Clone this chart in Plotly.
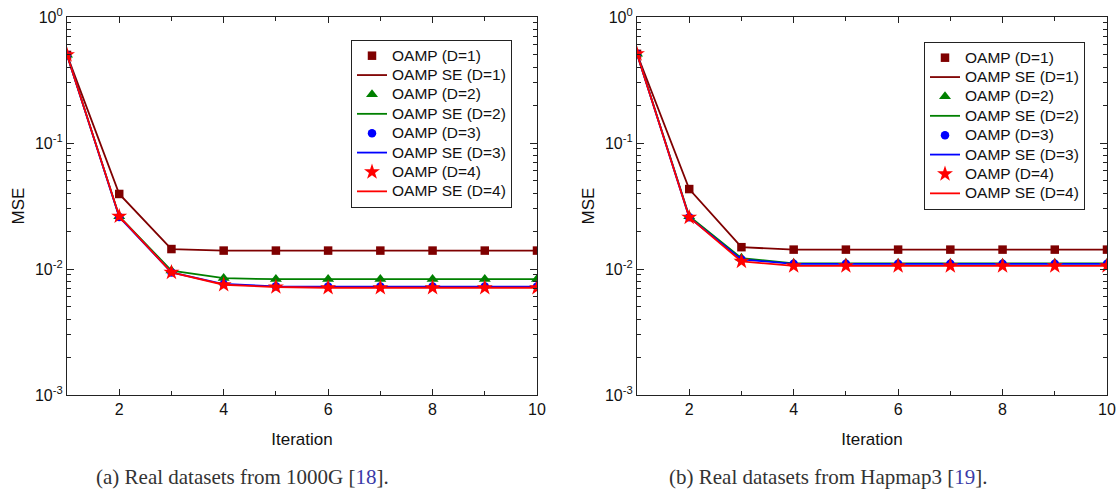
import plotly.graph_objects as go

iterations = [1, 2, 3, 4, 5, 6, 7, 8, 9, 10]

# (a) 1000G
a_d1 = [0.50, 0.0394, 0.0144, 0.0140, 0.0140, 0.0140, 0.0140, 0.0140, 0.0140, 0.0140]
a_d2 = [0.50, 0.0262, 0.0097, 0.00845, 0.0083, 0.0083, 0.0083, 0.0083, 0.0083, 0.0083]
a_d3 = [0.50, 0.0259, 0.0094, 0.0076, 0.00728, 0.00725, 0.00725, 0.00725, 0.00725, 0.00725]
a_d4 = [0.50, 0.0262, 0.0094, 0.0075, 0.0072, 0.0071, 0.0071, 0.0071, 0.0071, 0.0071]

# (b) Hapmap3
b_d1 = [0.51, 0.0431, 0.0149, 0.01425, 0.01425, 0.01425, 0.01425, 0.01425, 0.01425, 0.01425]
b_d2 = [0.51, 0.0262, 0.0122, 0.0111, 0.0111, 0.0111, 0.0111, 0.0111, 0.0111, 0.0111]
b_d3 = [0.51, 0.0257, 0.0119, 0.0110, 0.0110, 0.0110, 0.0110, 0.0110, 0.0110, 0.0110]
b_d4 = [0.51, 0.0257, 0.0115, 0.01057, 0.01057, 0.01057, 0.01057, 0.01057, 0.01057, 0.01057]

labels_m = ["OAMP (D=1)", "OAMP (D=2)", "OAMP (D=3)", "OAMP (D=4)"]
labels_l = ["OAMP SE (D=1)", "OAMP SE (D=2)", "OAMP SE (D=3)", "OAMP SE (D=4)"]
colors = ["#7f0000", "#008000", "#0000ff", "#ff0000"]
symbols = ["square", "triangle-up", "circle", "star"]
msizes = [8.5, 10.5, 8.5, 12]

y_tickvals = [1, 0.1, 0.01, 0.001]
y_ticktext = ["10<sup>0</sup>", "10<sup>-1</sup>", "10<sup>-2</sup>", "10<sup>-3</sup>"]
y_minor = [m * 10.0 ** e for e in (-3, -2, -1) for m in range(2, 10)]
x_tickvals = [2, 4, 6, 8, 10]
x_minor = [3, 5, 7, 9]

FONT = "Liberation Sans, Arial, sans-serif"

def lbl(s):
    return '<span style="font-size:15.5px">' + s + '</span>'

fig = go.Figure()

def add_panel(series, xa, ya, legend):
    for i, vals in enumerate(series):
        fig.add_trace(go.Scatter(
            x=iterations, y=vals, mode="markers", name=lbl(labels_m[i]),
            marker=dict(symbol=symbols[i], size=msizes[i], color=colors[i], line=dict(width=0)),
            xaxis=xa, yaxis=ya, legend=legend))
        fig.add_trace(go.Scatter(
            x=iterations, y=vals, mode="lines", name=lbl(labels_l[i]),
            line=dict(color=colors[i], width=1.8),
            xaxis=xa, yaxis=ya, legend=legend))

add_panel([a_d1, a_d2, a_d3, a_d4], "x", "y", "legend")
add_panel([b_d1, b_d2, b_d3, b_d4], "x2", "y2", "legend2")

W, H = 1119, 493
ML, MR, MT, MB = 67, 12, 17, 98
PW, PH = W - ML - MR, H - MT - MB

def px_x(p):
    return (p - ML) / PW

def px_y(p):
    return 1 - (p - MT) / PH

def xaxis(dom, anchor):
    return dict(domain=dom, anchor=anchor, range=[1, 10], tickvals=x_tickvals,
                automargin=False, ticklabeloverflow="allow",
                ticks="inside", ticklen=6, tickwidth=1, tickcolor="#222",
                showline=True, linecolor="#222", linewidth=1.2, mirror="ticks",
                showgrid=False, zeroline=False,
                minor=dict(tickvals=x_minor, ticks="inside", ticklen=4, tickcolor="#222", showgrid=False),
                tickfont=dict(family=FONT, size=16, color="#111"),
                title=dict(text="Iteration", font=dict(family=FONT, size=17, color="#111"), standoff=15))

def yaxis(anchor):
    return dict(domain=[0, 1], anchor=anchor, type="log", range=[-3, 0],
                automargin=False, ticklabeloverflow="allow",
                tickvals=y_tickvals, ticktext=y_ticktext,
                ticks="inside", ticklen=7, tickwidth=1, tickcolor="#222",
                showline=True, linecolor="#222", linewidth=1.2, mirror="ticks",
                showgrid=False, zeroline=False,
                minor=dict(tickvals=y_minor, ticks="inside", ticklen=4, tickcolor="#222", showgrid=False),
                tickfont=dict(family=FONT, size=16, color="#111"),
                title=dict(text="MSE", font=dict(family=FONT, size=17, color="#111"), standoff=6))

legend_common = dict(bgcolor="white", bordercolor="#222", borderwidth=1,
                     font=dict(family=FONT, size=12.6, color="#111"),
                     xanchor="right", yanchor="top", itemwidth=30,
                     tracegroupgap=0, traceorder="normal")

fig.update_layout(
    width=W, height=H,
    margin=dict(l=ML, r=MR, t=MT, b=MB, autoexpand=False),
    paper_bgcolor="white", plot_bgcolor="white",
    hovermode=False,
    xaxis=xaxis([px_x(67), px_x(537)], "y"),
    yaxis=yaxis("x"),
    xaxis2=xaxis([px_x(637), px_x(1107)], "y2"),
    yaxis2=yaxis("x2"),
    legend=dict(x=px_x(512), y=px_y(40), **legend_common),
    legend2=dict(x=px_x(1085), y=px_y(42), **legend_common),
    annotations=[
        dict(text='(a) Real datasets from 1000G [<span style="color:#3a3aa8">18</span>].',
             x=px_x(242), y=px_y(477), xref="paper", yref="paper", showarrow=False,
             xanchor="center", yanchor="middle",
             font=dict(family="Liberation Serif, DejaVu Serif, serif", size=21, color="#333")),
        dict(text='(b) Real datasets from Hapmap3 [<span style="color:#3a3aa8">19</span>].',
             x=px_x(828), y=px_y(477), xref="paper", yref="paper", showarrow=False,
             xanchor="center", yanchor="middle",
             font=dict(family="Liberation Serif, DejaVu Serif, serif", size=21, color="#333")),
    ],
)

# remove the default 8px page margin so the figure fills the window exactly
fig.write_html("out.html",
               config={"displayModeBar": False},
               post_script="document.body.style.margin='0';document.body.style.overflow='hidden';")
